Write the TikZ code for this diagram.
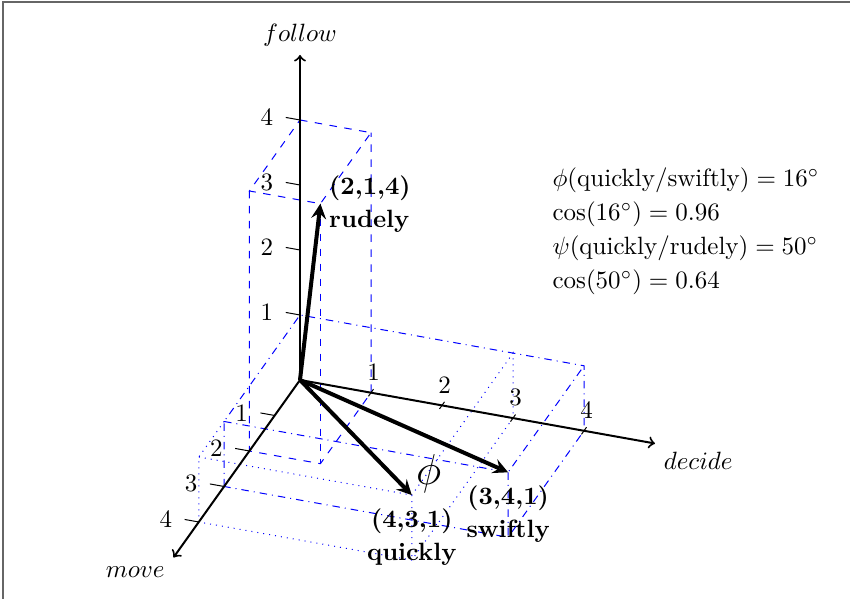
\documentclass[tikz,border=0pt]{standalone}
\usepackage{amsmath}
\usepackage{tikz}

\begin{document}
\begin{tikzpicture}[
  x={(-10.12pt,-14.2pt)}, y={(28.4pt,-5.08pt)}, z={(0pt,26pt)},
  font=\fontsize{10}{13.6}\selectfont,
  axis/.style={->, thick},
  vec/.style={-stealth, ultra thick},
  rbox/.style={blue, dashed},
  sbox/.style={blue, dash dot},
  qbox/.style={blue, dotted},
  lbl/.style={font=\fontsize{10}{13.2}\selectfont\bfseries, align=center}
]
  \useasboundingbox (-120pt,-87.6pt) rectangle (220pt,152pt);
  \draw[black!60, line width=0.8pt] (-118.6pt,-87.6pt) -- (-118.6pt,151.2pt) -- (220pt,151.2pt);

  \draw[rbox] (0,0,4) -- (0,1,4) -- (2,1,4) -- (2,0,4) -- cycle;
  \draw[rbox] (2,0,4) -- (2,0,0) -- (2,1,0) -- (0,1,0) -- (0,1,4);
  \draw[rbox] (2,1,4) -- (2,1,0);
  \draw[sbox] (3,0,0) -- (3,0,1) -- (0,0,1) -- (0,4,1) -- (0,4,0) -- (3,4,0) -- cycle;
  \draw[sbox] (3,0,1) -- (3,4,1) -- (0,4,1) (3,4,1) -- (3,4,0);
  \draw[qbox] (3,0,1) -- (4,0,1) -- (4,0,0) -- (4,3,0) -- (0,3,0) -- (0,3,1) -- (4,3,1) -- (4,0,1)
              (4,3,1) -- (4,3,0);

  \coordinate (O) at (0,0,0);
  \coordinate (M) at (5,0,0);
  \coordinate (D) at (0,5,0);
  \coordinate (F) at (0,0,5);
  \draw[axis] (O) -- (M);
  \draw[axis] (O) -- (D);
  \draw[axis] (O) -- (F);
  \node[below left] (lm) at (M) {$move$};
  \node[below right] (ld) at (D) {$decide$};
  \node[above] (lf) at (F) {$follow$};

  \foreach \k in {1,...,4} {
    \draw (0,-0.2,\k) -- (0,0,\k);
    \node[left=1.5pt] (tf\k) at (0,-0.2,\k) {\k};
    \draw (\k,-0.2,0) -- (\k,0,0);
    \node[left=1.5pt] (tm\k) at (\k,-0.2,0) {\k};
    \draw (0.1,\k,0) -- (-0.1,\k,0);
    \node[above] (td\k) at (-0.1,\k,0) {\k};
  }

  \coordinate (Q) at (4,3,1);
  \coordinate (S) at (3,4,1);
  \coordinate (R) at (2,1,4);
  \draw[vec] (O) -- (Q);
  \draw[vec] (O) -- (S);
  \draw[vec] (O) -- (R);
  \node[lbl, below=2pt] (lq) at (Q) {(4,3,1)\\quickly};
  \node[lbl, below=2pt] (ls) at (S) {(3,4,1)\\swiftly};
  \node[lbl, right, align=left] (lr) at (R) {(2,1,4)\\rudely};

  \node (phi) at (51.5pt,-37.5pt) {\LARGE$\phi$};

  \node[anchor=west, align=left] (info) at (97.5pt,59.6pt)
    {$\phi(\text{quickly/swiftly}) = 16^\circ$\\
     $\cos(16^\circ) = 0.96$\\
     $\psi(\text{quickly/rudely}) = 50^\circ$\\
     $\cos(50^\circ) = 0.64$};
\end{tikzpicture}
\end{document}
